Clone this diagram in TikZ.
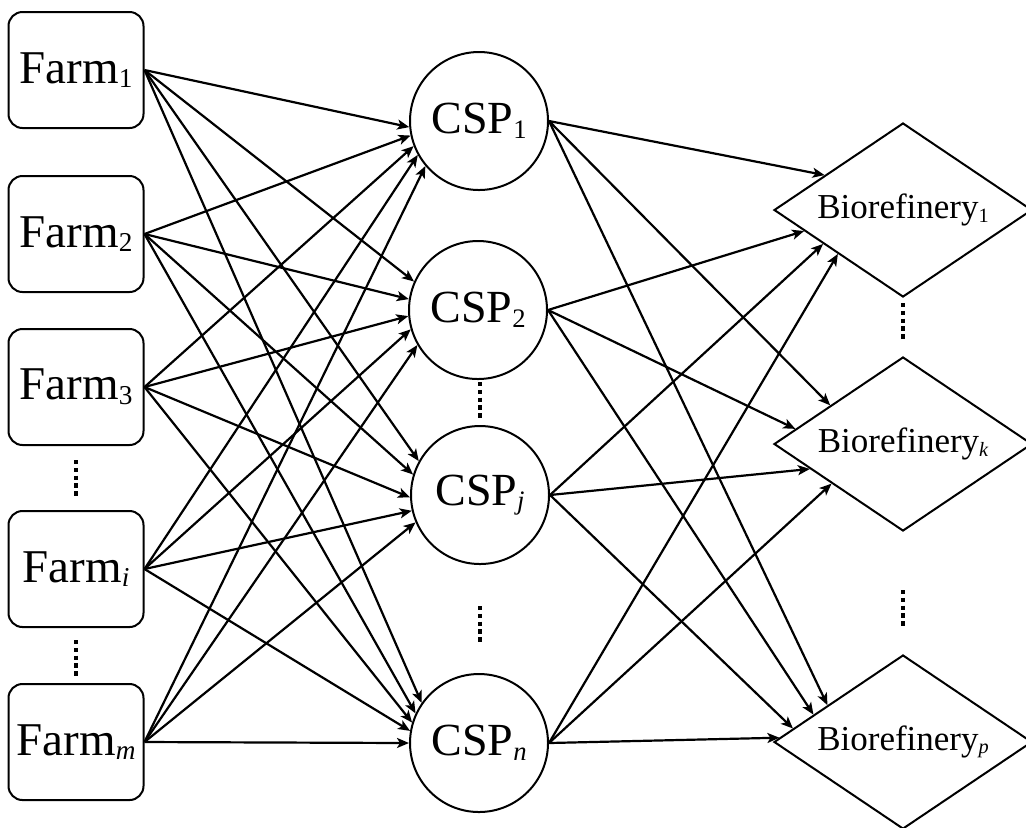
\documentclass[tikz,border=0pt]{standalone}
\usepackage{fontspec}
\setmainfont{Liberation Serif}
\usepackage{graphicx}
\usetikzlibrary{shapes.geometric, arrows.meta}

\newcommand{\idx}[1]{\raisebox{-0.1em}{\scalebox{0.58}{#1}}}

\begin{document}
\begin{tikzpicture}[
    x=0.5pt, y=-0.5pt,
    line width=1pt,
    >={Stealth[length=6pt, width=5pt, inset=1.5pt]},
    farm/.style={draw, rectangle, rounded corners=7pt, minimum width=67.5pt, minimum height=58pt, inner sep=0pt, font=\fontsize{23.5}{28}\selectfont},
    csp/.style={draw, circle, minimum size=69pt, inner sep=0pt, font=\fontsize{23}{28}\selectfont},
    refinery/.style={draw, diamond, aspect=1.48, minimum width=129pt, minimum height=87pt, inner sep=0pt, font=\fontsize{17.5}{21}\selectfont},
    vdots/.style={line width=2pt, dash pattern=on 2.2pt off 1.7pt},
    flow/.style={->, line width=1.1pt}
]
    \useasboundingbox (0,0) rectangle (1026,827);

    % Farms
    \node[farm] (f1) at (76, 70) {Farm\idx{1}};
    \node[farm] (f2) at (76, 234) {Farm\idx{2}};
    \node[farm] (f3) at (76, 387) {Farm\idx{3}};
    \node[farm] (fi) at (76, 569) {Farm\idx{\itshape i}};
    \node[farm] (fm) at (76, 742) {Farm\idx{\itshape m}};
    \draw[vdots] (76, 460) -- (76, 498);
    \draw[vdots] (76, 640) -- (76, 678);

    % Collection and storage points
    \node[csp] (c1) at (479, 121) {CSP\idx{1}};
    \node[csp] (c2) at (478, 310) {CSP\idx{2}};
    \node[csp] (cj) at (480, 495) {CSP\idx{\itshape j}};
    \node[csp] (cn) at (479, 743) {CSP\idx{\itshape n}};
    \draw[vdots] (480, 382) -- (480, 420);
    \draw[vdots] (480, 606) -- (480, 644);

    % Biorefineries
    \node[refinery] (b1) at (903, 210) {Biorefinery\idx{1}};
    \node[refinery] (bk) at (903, 444) {Biorefinery\idx{\itshape k}};
    \node[refinery] (bp) at (903, 742) {Biorefinery\idx{\itshape p}};
    \draw[vdots] (903, 303) -- (903, 341);
    \draw[vdots] (903, 590) -- (903, 628);

    % Farms to CSPs
    \draw[flow] (f1.east) -- (c1.185);
    \draw[flow] (f1.east) -- (c2.156);
    \draw[flow] (f1.east) -- (cj.151);
    \draw[flow] (f1.east) -- (cn.145);

    \draw[flow] (f2.east) -- (c1.192);
    \draw[flow] (f2.east) -- (c2.171);
    \draw[flow] (f2.east) -- (cj.163);
    \draw[flow] (f2.east) -- (cn.155);

    \draw[flow] (f3.east) -- (c1.201);
    \draw[flow] (f3.east) -- (c2.185);
    \draw[flow] (f3.east) -- (cj.182);
    \draw[flow] (f3.east) -- (cn.163);

    \draw[flow] (fi.east) -- (c1.209);
    \draw[flow] (fi.east) -- (c2.196);
    \draw[flow] (fi.east) -- (cj.193);
    \draw[flow] (fi.east) -- (cn.170);

    \draw[flow] (fm.east) -- (c1.220);
    \draw[flow] (fm.east) -- (c2.210);
    \draw[flow] (fm.east) -- (cj.203);
    \draw[flow] (fm.east) -- (cn.180);

    % CSPs to biorefineries
    \draw[flow] (c1.east) -- (b1.156);
    \draw[flow] (c1.east) -- (bk.152);
    \draw[flow] (c1.east) -- (bp.154);

    \draw[flow] (c2.east) -- (b1.192);
    \draw[flow] (c2.east) -- (bk.172);
    \draw[flow] (c2.east) -- (bp.163);

    \draw[flow] (cj.east) -- (b1.203);
    \draw[flow] (cj.east) -- (bk.195);
    \draw[flow] (cj.east) -- (bp.173);

    \draw[flow] (cn.east) -- (b1.214);
    \draw[flow] (cn.east) -- (bk.209);
    \draw[flow] (cn.east) -- (bp.178);

\end{tikzpicture}
\end{document}
